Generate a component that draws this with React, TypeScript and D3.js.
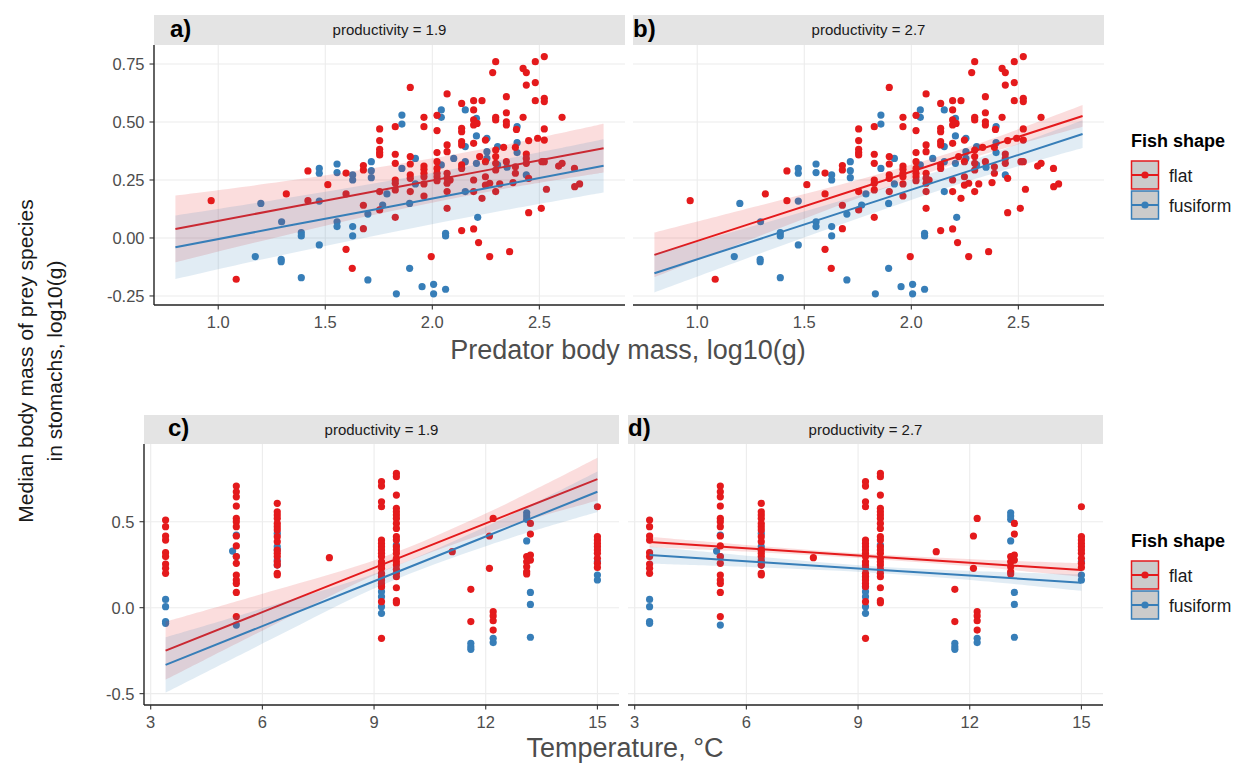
import * as d3 from "d3";

// predator body mass (log10 g) vs median prey mass — same points in a) and b)
const massFlat: [number, number][] = [
  [0.967, 0.161], [1.084, -0.178], [1.318, 0.19], [1.419, 0.289], [1.419, 0.161], [1.512, 0.23],
  [1.597, 0.28], [1.597, 0.19], [1.597, -0.049], [1.626, -0.131], [1.678, 0.312], [1.678, 0.293],
  [1.678, 0.141], [1.678, 0.04], [1.754, 0.47], [1.754, 0.42], [1.754, 0.382], [1.754, 0.368],
  [1.754, 0.358], [1.754, 0.2], [1.754, 0.121], [1.827, 0.48], [1.827, 0.361], [1.827, 0.322],
  [1.827, 0.25], [1.827, 0.236], [1.827, 0.207], [1.827, 0.089], [1.897, 0.649], [1.897, 0.351],
  [1.897, 0.319], [1.897, 0.272], [1.897, 0.257], [1.897, 0.2], [1.961, 0.52], [1.961, 0.48],
  [1.961, 0.31], [1.961, 0.296], [1.961, 0.279], [1.961, 0.264], [1.961, 0.233], [1.961, 0.181],
  [1.995, -0.08], [2.022, 0.529], [2.022, 0.463], [2.022, 0.368], [2.022, 0.329], [2.022, 0.3],
  [2.022, 0.279], [2.022, 0.264], [2.022, 0.247], [2.069, 0.621], [2.069, 0.401], [2.069, 0.372],
  [2.069, 0.279], [2.069, 0.257], [2.069, 0.236], [2.069, 0.2], [2.069, 0.128], [2.083, 0.25],
  [2.137, 0.58], [2.137, 0.473], [2.137, 0.458], [2.137, 0.415], [2.137, 0.401], [2.137, 0.315],
  [2.137, 0.3], [2.137, 0.032], [2.193, 0.592], [2.232, 0.592], [2.193, 0.552], [2.193, 0.509],
  [2.193, 0.487], [2.209, 0.494], [2.193, 0.408], [2.193, 0.25], [2.193, 0.2], [2.193, 0.039],
  [2.216, -0.02], [2.221, 0.351], [2.232, 0.171], [2.248, 0.422], [2.248, 0.329], [2.248, 0.264],
  [2.248, 0.228], [2.268, -0.08], [2.268, 0.236], [2.282, 0.713], [2.296, 0.76], [2.296, 0.52],
  [2.296, 0.509], [2.296, 0.379], [2.296, 0.351], [2.296, 0.322], [2.296, 0.293], [2.296, 0.2],
  [2.315, 0.233], [2.333, 0.391], [2.346, 0.609], [2.346, 0.54], [2.346, 0.501], [2.346, 0.487],
  [2.346, 0.329], [2.361, -0.059], [2.377, 0.239], [2.388, 0.391], [2.388, 0.307], [2.388, 0.279],
  [2.393, 0.468], [2.424, 0.731], [2.439, 0.713], [2.424, 0.52], [2.439, 0.659], [2.439, 0.362],
  [2.439, 0.343], [2.439, 0.322], [2.45, 0.42], [2.45, 0.257], [2.45, 0.109], [2.481, 0.76],
  [2.481, 0.67], [2.481, 0.592], [2.492, 0.43], [2.509, 0.128], [2.512, 0.329], [2.523, 0.782],
  [2.523, 0.602], [2.523, 0.588], [2.523, 0.47], [2.523, 0.422], [2.523, 0.329], [2.533, 0.21],
  [2.59, 0.31], [2.606, 0.52], [2.606, 0.322], [2.664, 0.3], [2.665, 0.221], [2.688, 0.233],
];

const massFusiform: [number, number][] = [
  [1.199, 0.149], [1.173, -0.08], [1.296, 0.07], [1.294, -0.092], [1.294, -0.102], [1.388, 0.023],
  [1.388, 0.009], [1.388, -0.171], [1.472, 0.3], [1.472, 0.279], [1.472, 0.159], [1.472, -0.03],
  [1.555, 0.319], [1.555, 0.282], [1.555, 0.07], [1.555, 0.049], [1.628, 0.272], [1.628, 0.25],
  [1.628, 0.049], [1.628, 0.009], [1.699, -0.181], [1.699, 0.103], [1.715, 0.329], [1.715, 0.29],
  [1.715, 0.26], [1.768, 0.142], [1.788, 0.19], [1.832, -0.241], [1.858, 0.53], [1.858, 0.491],
  [1.858, 0.3], [1.894, 0.149], [1.894, -0.131], [1.921, 0.343], [1.921, 0.233], [1.952, -0.21],
  [2.006, -0.2], [2.006, -0.241], [2.042, 0.552], [2.042, 0.52], [2.042, 0.315], [2.062, 0.02],
  [2.062, 0.009], [2.062, -0.221], [2.1, 0.343], [2.154, 0.552], [2.154, 0.394], [2.154, 0.329],
  [2.154, 0.2], [2.206, 0.516], [2.206, 0.44], [2.206, 0.322], [2.212, 0.089], [2.255, 0.43],
  [2.255, 0.372], [2.255, 0.343], [2.305, 0.394], [2.305, 0.315], [2.349, 0.305], [2.396, 0.48],
  [2.396, 0.411], [2.396, 0.368], [2.439, 0.272],
];

// temperature vs median prey mass — same points in c) and d)
const tempFlat: [number, number][] = [
  [3.4, 0.51], [3.4, 0.471], [3.4, 0.417], [3.4, 0.393], [3.4, 0.32], [3.4, 0.297], [3.4, 0.254],
  [3.4, 0.229], [3.4, 0.2],
  [5.3, 0.707], [5.3, 0.674], [5.3, 0.645], [5.3, 0.591], [5.3, 0.519], [5.3, 0.5], [5.3, 0.471],
  [5.3, 0.417], [5.3, 0.359], [5.3, 0.297], [5.3, 0.258], [5.3, 0.19], [5.3, 0.161], [5.3, 0.141],
  [5.3, 0.089], [5.3, -0.052],
  [6.4, 0.607], [6.4, 0.558], [6.4, 0.539], [6.4, 0.519], [6.4, 0.49], [6.4, 0.471], [6.4, 0.452],
  [6.4, 0.413], [6.4, 0.384], [6.4, 0.335], [6.4, 0.316], [6.4, 0.297], [6.4, 0.267], [6.4, 0.248],
  [6.4, 0.2], [6.4, 0.19],
  [7.8, 0.291],
  [9.2, 0.733], [9.2, 0.707], [9.2, 0.616], [9.2, 0.587], [9.2, 0.393], [9.2, 0.374], [9.2, 0.355],
  [9.2, 0.335], [9.2, 0.316], [9.2, 0.297], [9.2, 0.267], [9.2, 0.248], [9.2, 0.229], [9.2, 0.2],
  [9.2, 0.18], [9.2, 0.161], [9.2, 0.141], [9.2, 0.122], [9.2, 0.035], [9.2, -0.178],
  [9.6, 0.781], [9.6, 0.762], [9.6, 0.655], [9.6, 0.578], [9.6, 0.558], [9.6, 0.539], [9.6, 0.519],
  [9.6, 0.49], [9.6, 0.461], [9.6, 0.413], [9.6, 0.393], [9.6, 0.355], [9.6, 0.335], [9.6, 0.316],
  [9.6, 0.287], [9.6, 0.267], [9.6, 0.248], [9.6, 0.223], [9.6, 0.2], [9.6, 0.18], [9.6, 0.116],
  [9.6, 0.041], [9.6, 0.029],
  [11.1, 0.326],
  [11.6, 0.107], [11.6, -0.081],
  [12.1, 0.417], [12.1, 0.229],
  [12.2, 0.519], [12.2, -0.023], [12.2, -0.048], [12.2, -0.076], [12.2, -0.13],
  [13.1, 0.297], [13.1, 0.267], [13.1, 0.238], [13.1, 0.209], [13.1, 0.196],
  [13.2, 0.49], [13.2, 0.428], [13.2, 0.306], [13.2, 0.277],
  [15, 0.587], [15, 0.413], [15, 0.393], [15, 0.374], [15, 0.355], [15, 0.335], [15, 0.316],
  [15, 0.287], [15, 0.258], [15, 0.234],
];

const tempFusiform: [number, number][] = [
  [3.4, 0.048], [3.4, 0.006], [3.4, -0.081], [3.4, -0.091],
  [5.3, 0.422], [5.3, 0.297], [5.3, -0.101], [5.2, 0.329],
  [6.4, 0.432], [6.4, 0.355], [6.4, 0.335], [6.4, 0.277], [6.4, 0.248],
  [9.2, 0.18], [9.2, 0.122], [9.2, 0.093], [9.2, 0.064], [9.2, 0.006], [9.2, -0.033],
  [9.6, 0.364],
  [11.6, -0.207], [11.6, -0.227], [11.6, -0.242],
  [12.2, -0.178], [12.2, -0.203],
  [13.1, 0.552], [13.1, 0.533], [13.1, 0.514], [13.1, 0.388],
  [13.2, 0.089], [13.2, 0.019], [13.2, -0.172],
  [15, 0.267], [15, 0.19], [15, 0.161],
];

const massGrid = [0.8, 1.3, 1.8, 2.3, 2.8];
const fitAFlat = [0.039, 0.126, 0.213, 0.3, 0.387];
const ciAFlat = [0.144, 0.117, 0.099, 0.094, 0.105];
const fitAFusi = [-0.04, 0.048, 0.135, 0.223, 0.311];
const ciAFusi = [0.137, 0.121, 0.112, 0.11, 0.115];
const fitBFlat = [-0.073, 0.077, 0.226, 0.376, 0.526];
const ciBFlat = [0.096, 0.065, 0.037, 0.027, 0.047];
const fitBFusi = [-0.152, -0.002, 0.148, 0.298, 0.448];
const ciBFusi = [0.083, 0.063, 0.048, 0.043, 0.06];

const tempGrid = [3.4, 6.3, 9.2, 12.1, 15.0];
const fitCFlat = [-0.25, 0.0, 0.249, 0.499, 0.748];
const ciCFlat = [0.169, 0.1, 0.042, 0.059, 0.124];
const fitCFusi = [-0.333, -0.081, 0.171, 0.423, 0.674];
const ciCFusi = [0.161, 0.096, 0.041, 0.058, 0.118];
const fitDFlat = [0.382, 0.341, 0.3, 0.26, 0.219];
const ciDFlat = [0.031, 0.019, 0.014, 0.021, 0.039];
const fitDFusi = [0.306, 0.266, 0.225, 0.186, 0.145];
const ciDFusi = [0.05, 0.031, 0.019, 0.027, 0.048];

const massTicks = [1.0, 1.5, 2.0, 2.5];
const tempTicks = [3, 6, 9, 12, 15];
const topYTicks = [-0.25, 0, 0.25, 0.5, 0.75];
const bottomYTicks = [-0.5, 0, 0.5];
const shapes = ["flat", "fusiform"];

const RED = "#E41A1C";
const BLUE = "#377EB8";
const FONT = "'Liberation Sans', Arial, Helvetica, sans-serif";

type Smooth = { fit: number[]; ci: number[] };

function Panel(props: {
  x0: number; x1: number; y0: number; y1: number; stripH: number;
  xDomain: [number, number]; yDomain: [number, number];
  xTicks: number[]; yTicks: number[];
  xFmt: (v: number) => string; yFmt: (v: number) => string;
  flat: [number, number][]; fusi: [number, number][];
  grid: number[]; sFlat: Smooth; sFusi: Smooth;
  tag: string; tagX: number; strip: string; yAxis: boolean;
}) {
  const p = props;
  const x = d3.scaleLinear().domain(p.xDomain).range([p.x0, p.x1]);
  const y = d3.scaleLinear().domain(p.yDomain).range([p.y1, p.y0]);

  const band = (s: Smooth) =>
    d3.area<number>()
      .x((_, i) => x(p.grid[i]))
      .y0((_, i) => y(s.fit[i] - s.ci[i]))
      .y1((_, i) => y(s.fit[i] + s.ci[i]))
      .curve(d3.curveCatmullRom)(p.grid) || "";
  const line = (s: Smooth) =>
    d3.line<number>()
      .x((_, i) => x(p.grid[i]))
      .y((_, i) => y(s.fit[i]))(p.grid) || "";

  return (
    <g>
      <rect x={p.x0} y={p.y0 - p.stripH} width={p.x1 - p.x0} height={p.stripH} fill="#e4e4e4" />
      <text x={(p.x0 + p.x1) / 2} y={p.y0 - p.stripH / 2 + 5} textAnchor="middle"
        fontSize={15} fill="#1a1a1a">{p.strip}</text>
      <text x={p.tagX} y={p.y0 - 8} fontSize={24} fontWeight="bold" fill="#000">{p.tag}</text>

      {p.xTicks.map((t) => (
        <line key={"gx" + t} x1={x(t)} x2={x(t)} y1={p.y0} y2={p.y1} stroke="#ececec" strokeWidth={1.1} />
      ))}
      {p.yTicks.map((t) => (
        <line key={"gy" + t} x1={p.x0} x2={p.x1} y1={y(t)} y2={y(t)} stroke="#ececec" strokeWidth={1.1} />
      ))}

      {p.fusi.map((d, i) => (
        <circle key={"b" + i} cx={x(d[0])} cy={y(d[1])} r={3.6} fill={BLUE} />
      ))}
      {p.flat.map((d, i) => (
        <circle key={"r" + i} cx={x(d[0])} cy={y(d[1])} r={3.6} fill={RED} />
      ))}

      <path d={band(p.sFlat)} fill={RED} fillOpacity={0.15} />
      <path d={line(p.sFlat)} fill="none" stroke={RED} strokeWidth={2} />
      <path d={band(p.sFusi)} fill={BLUE} fillOpacity={0.15} />
      <path d={line(p.sFusi)} fill="none" stroke={BLUE} strokeWidth={2} />

      <line x1={p.x0} x2={p.x1} y1={p.y1} y2={p.y1} stroke="#222" strokeWidth={1.4} />
      {p.xTicks.map((t) => (
        <g key={"tx" + t}>
          <line x1={x(t)} x2={x(t)} y1={p.y1} y2={p.y1 + 4.5} stroke="#333" strokeWidth={1.1} />
          <text x={x(t)} y={p.y1 + 23} textAnchor="middle" fontSize={16.5} fill="#4d4d4d">{p.xFmt(t)}</text>
        </g>
      ))}
      {p.yAxis && (
        <g>
          <line x1={p.x0} x2={p.x0} y1={p.y0} y2={p.y1} stroke="#222" strokeWidth={1.4} />
          {p.yTicks.map((t) => (
            <g key={"ty" + t}>
              <line x1={p.x0 - 4.5} x2={p.x0} y1={y(t)} y2={y(t)} stroke="#333" strokeWidth={1.1} />
              <text x={p.x0 - 9.5} y={y(t) + 6} textAnchor="end" fontSize={16.5} fill="#4d4d4d">{p.yFmt(t)}</text>
            </g>
          ))}
        </g>
      )}
    </g>
  );
}

function Legend({ x, y }: { x: number; y: number }) {
  const colors = [RED, BLUE];
  return (
    <g>
      <text x={x} y={y} fontSize={18} fontWeight="bold" fill="#000">Fish shape</text>
      {shapes.map((s, i) => {
        const ky = y + 14 + i * 30;
        return (
          <g key={s}>
            <rect x={x + 0.5} y={ky} width={27} height={28} fill="#cbcbcb" stroke={colors[i]} strokeWidth={1.5} />
            <line x1={x + 0.5} x2={x + 27.5} y1={ky + 14} y2={ky + 14} stroke={colors[i]} strokeWidth={2} />
            <circle cx={x + 14} cy={ky + 14} r={3.6} fill={colors[i]} />
            <text x={x + 38} y={ky + 21} fontSize={17.5} fill="#1a1a1a">{s}</text>
          </g>
        );
      })}
    </g>
  );
}

export default function App() {
  const f2 = d3.format(".2f");
  const f1 = d3.format(".1f");
  const f0 = d3.format("d");
  const topY: [number, number] = [-0.289, 0.832];
  const botY: [number, number] = [-0.566, 0.952];
  const massDom: [number, number] = [0.7, 2.9];
  const tempDom: [number, number] = [2.82, 15.58];
  const neg = (f: (v: number) => string) => (v: number) => f(v).replace("−", "-");

  return (
    <svg width={1235} height={764} style={{ position: "absolute", left: 0, top: 0, fontFamily: FONT }}>
      <rect width={1235} height={764} fill="#fff" />
      <Panel x0={154} x1={625} y0={45} y1={305} stripH={30} xDomain={massDom} yDomain={topY}
        xTicks={massTicks} yTicks={topYTicks} xFmt={f1} yFmt={neg(f2)}
        flat={massFlat} fusi={massFusiform} grid={massGrid}
        sFlat={{ fit: fitAFlat, ci: ciAFlat }} sFusi={{ fit: fitAFusi, ci: ciAFusi }}
        tag="a)" tagX={170} strip="productivity = 1.9" yAxis={true} />
      <Panel x0={633} x1={1104} y0={45} y1={305} stripH={30} xDomain={massDom} yDomain={topY}
        xTicks={massTicks} yTicks={topYTicks} xFmt={f1} yFmt={neg(f2)}
        flat={massFlat} fusi={massFusiform} grid={massGrid}
        sFlat={{ fit: fitBFlat, ci: ciBFlat }} sFusi={{ fit: fitBFusi, ci: ciBFusi }}
        tag="b)" tagX={633} strip="productivity = 2.7" yAxis={false} />
      <Panel x0={144} x1={619} y0={444} y1={705} stripH={29} xDomain={tempDom} yDomain={botY}
        xTicks={tempTicks} yTicks={bottomYTicks} xFmt={f0} yFmt={neg(f1)}
        flat={tempFlat} fusi={tempFusiform} grid={tempGrid}
        sFlat={{ fit: fitCFlat, ci: ciCFlat }} sFusi={{ fit: fitCFusi, ci: ciCFusi }}
        tag="c)" tagX={168} strip="productivity = 1.9" yAxis={true} />
      <Panel x0={628} x1={1103} y0={444} y1={705} stripH={29} xDomain={tempDom} yDomain={botY}
        xTicks={tempTicks} yTicks={bottomYTicks} xFmt={f0} yFmt={neg(f1)}
        flat={tempFlat} fusi={tempFusiform} grid={tempGrid}
        sFlat={{ fit: fitDFlat, ci: ciDFlat }} sFusi={{ fit: fitDFusi, ci: ciDFusi }}
        tag="d)" tagX={628} strip="productivity = 2.7" yAxis={false} />

      <text x={628} y={359} textAnchor="middle" fontSize={27} fill="#4d4d4d">Predator body mass, log10(g)</text>
      <text x={625} y={757} textAnchor="middle" fontSize={27} fill="#4d4d4d">Temperature, °C</text>
      <g transform="translate(33,361) rotate(-90)">
        <text x={0} y={0} textAnchor="middle" fontSize={21} fill="#1a1a1a">Median body mass of prey species</text>
        <text x={0} y={29} textAnchor="middle" fontSize={21} fill="#1a1a1a">in stomachs, log10(g)</text>
      </g>

      <Legend x={1131} y={147} />
      <Legend x={1131} y={547} />
    </svg>
  );
}
